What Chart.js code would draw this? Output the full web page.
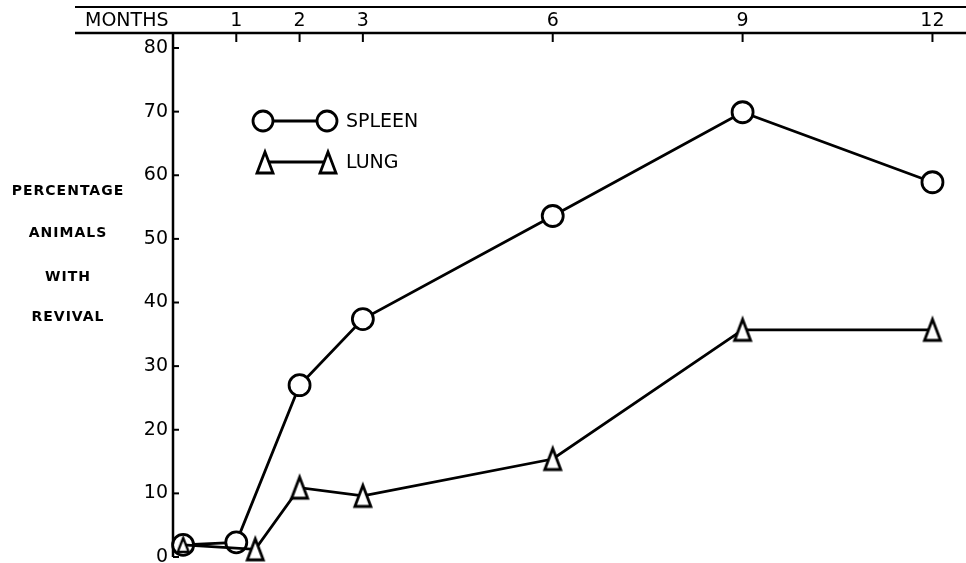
<!DOCTYPE html>
<html><head><meta charset="utf-8">
<script src="https://cdn.jsdelivr.net/npm/chart.js@4/dist/chart.umd.min.js"></script>
<style>html,body{margin:0;padding:0;background:#fff;overflow:hidden}</style>
</head><body>
<canvas id="c" width="966" height="563"></canvas>
<script>
// ---- data ----
const monthTicks = [1, 2, 3, 6, 9, 12];
const pctTicks = [0, 10, 20, 30, 40, 50, 60, 70, 80];
const spleenMonths = [0.16, 1, 2, 3, 6, 9, 12];
const spleenPct = [1.9, 2.3, 27.0, 37.4, 53.6, 69.9, 58.9];
const lungMonths = [0.16, 1.3, 2, 3, 6, 9, 12];
const lungPct = [1.9, 1.2, 10.9, 9.6, 15.4, 35.7, 35.7];
const seriesNames = ['SPLEEN', 'LUNG'];
const xAxisName = 'MONTHS';
const yAxisTitle = ['PERCENTAGE', 'ANIMALS', 'WITH', 'REVIVAL'];

const FONT = '"DejaVu Sans", "Liberation Sans", sans-serif';
const LW = 2.8;

function makeTriangle(w, h, lw) {
  const m = 5;
  const c = document.createElement('canvas');
  c.width = w + m * 2; c.height = h + m * 2;
  const g = c.getContext('2d');
  g.lineWidth = lw; g.lineJoin = 'miter'; g.strokeStyle = '#000'; g.fillStyle = '#fff';
  g.beginPath();
  g.moveTo(c.width / 2, m);
  g.lineTo(c.width - m, c.height - m);
  g.lineTo(m, c.height - m);
  g.closePath();
  g.fill(); g.stroke();
  return c;
}
const triBig = makeTriangle(16, 21, LW);
const triSmall = makeTriangle(11, 14, 2.3);

const toXY = (xs, ys) => xs.map((x, i) => ({x: x, y: ys[i]}));

const decor = {
  id: 'decor',
  beforeDatasetsDraw(chart) {
    const ctx = chart.ctx, ca = chart.chartArea, xs = chart.scales.x, ys = chart.scales.y;
    ctx.save();
    ctx.strokeStyle = '#000';
    ctx.lineWidth = 2.2;
    ctx.beginPath(); ctx.moveTo(75, 7); ctx.lineTo(chart.width, 7); ctx.stroke();
    ctx.lineWidth = 2.5;
    ctx.beginPath(); ctx.moveTo(75, ca.top); ctx.lineTo(chart.width, ca.top); ctx.stroke();
    ctx.beginPath(); ctx.moveTo(ca.left, ca.top); ctx.lineTo(ca.left, ca.bottom); ctx.stroke();
    ctx.lineWidth = 2;
    xs.ticks.forEach(t => {
      const px = xs.getPixelForValue(t.value);
      ctx.beginPath(); ctx.moveTo(px, ca.top); ctx.lineTo(px, ca.top + 9); ctx.stroke();
    });
    ys.ticks.forEach(t => {
      const py = ys.getPixelForValue(t.value);
      ctx.beginPath(); ctx.moveTo(ca.left, py); ctx.lineTo(ca.left + 6, py); ctx.stroke();
    });
    ctx.fillStyle = '#000';
    ctx.font = '19px ' + FONT;
    ctx.textAlign = 'left'; ctx.textBaseline = 'middle';
    ctx.fillText(xAxisName, 85, 21);
    ctx.font = 'bold 14px ' + FONT;
    ctx.textAlign = 'center';
    try { ctx.letterSpacing = '1px'; } catch (e) {}
    const ty = [191, 233, 277, 317];
    yAxisTitle.forEach((s, i) => ctx.fillText(s, 68, ty[i]));
    ctx.restore();
  },
  afterDraw(chart) {
    const ctx = chart.ctx;
    ctx.save();
    ctx.strokeStyle = '#000'; ctx.lineWidth = LW; ctx.fillStyle = '#000';
    const y1 = 121, y2 = 162, xa = 263, xb = 327;
    ctx.beginPath(); ctx.moveTo(xa, y1); ctx.lineTo(xb, y1); ctx.stroke();
    [xa, xb].forEach(x => {
      ctx.beginPath(); ctx.arc(x, y1, 10, 0, Math.PI * 2);
      ctx.fillStyle = '#fff'; ctx.fill(); ctx.stroke();
    });
    ctx.beginPath(); ctx.moveTo(xa, y2); ctx.lineTo(xb, y2); ctx.stroke();
    [xa + 2, xb + 1].forEach(x => ctx.drawImage(triBig, Math.round(x - triBig.width / 2), Math.round(y2 - triBig.height / 2)));
    ctx.fillStyle = '#000';
    ctx.font = '19px ' + FONT; ctx.textAlign = 'left'; ctx.textBaseline = 'middle';
    ctx.fillText(seriesNames[0], 346, y1 + 1);
    ctx.fillText(seriesNames[1], 346, y2 + 1);
    ctx.restore();
  }
};

new Chart(document.getElementById('c'), {
  type: 'line',
  data: {
    datasets: [
      {
        label: seriesNames[1],
        data: toXY(lungMonths, lungPct),
        order: 0,
        clip: false,
        borderColor: '#000', borderWidth: LW,
        pointStyle: lungMonths.map((m, i) => i === 0 ? triSmall : triBig),
        pointRadius: 10, pointHoverRadius: 10,
        tension: 0, fill: false
      },
      {
        label: seriesNames[0],
        data: toXY(spleenMonths, spleenPct),
        order: 1,
        clip: false,
        borderColor: '#000', borderWidth: LW,
        pointStyle: 'circle', pointRadius: 10.5, pointHoverRadius: 10.5,
        pointBackgroundColor: '#fff', pointBorderColor: '#000', pointBorderWidth: LW,
        tension: 0, fill: false
      }
    ]
  },
  options: {
    responsive: false,
    animation: false,
    devicePixelRatio: 1,
    layout: {autoPadding: false, padding: {left: 0, right: 0, top: 0, bottom: 6}},
    plugins: {legend: {display: false}, tooltip: {enabled: false}},
    events: [],
    scales: {
      x: {
        type: 'linear', position: 'top', min: 0, max: 12.53,
        grid: {display: false, drawTicks: false},
        border: {display: false},
        afterBuildTicks: s => { s.ticks = monthTicks.map(v => ({value: v})); },
        ticks: {color: '#000', font: {family: FONT, size: 19}, padding: 1, maxRotation: 0, autoSkip: false,
                callback: v => String(v)},
        afterFit: s => { s.height = 33; s.paddingLeft = 0; s.paddingRight = 0; }
      },
      y: {
        type: 'linear', position: 'left', min: 0, max: 82.36,
        grid: {display: false, drawTicks: false},
        border: {display: false},
        afterBuildTicks: s => { s.ticks = pctTicks.map(v => ({value: v})); },
        ticks: {color: '#000', font: {family: FONT, size: 19}, padding: 5, autoSkip: false,
                callback: v => String(v)},
        afterFit: s => { s.width = 173; s.paddingTop = 0; s.paddingBottom = 0; }
      }
    }
  },
  plugins: [decor]
});
</script>
</body></html>
